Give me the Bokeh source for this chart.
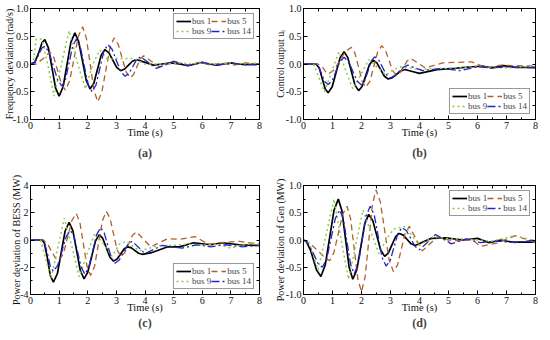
from bokeh.plotting import figure
from bokeh.layouts import gridplot
from bokeh.models import (Range1d, LinearAxis, Legend, LegendItem, Title,
                          SingleIntervalTicker, FixedTicker, NumeralTickFormatter)
from bokeh.embed import file_html
from bokeh.resources import INLINE

FONT = "'Liberation Serif', 'Times New Roman', serif"
series_names = ["bus 1", "bus 5", "bus 9", "bus 14"]
colors = ["#000000", "#B0602A", "#8CCB4A", "#2424C8"]
dashes = ["solid", "6 4", "2 3", "8 3 2 3"]
widths = [1.7, 1.3, 1.5, 1.3]

# ---------- (a) Frequency deviation (rad/s) ----------
a_t1 = [0, 0.15, 0.3, 0.4, 0.5, 0.625, 0.75, 0.875, 1.0, 1.14, 1.275, 1.41, 1.55, 1.68, 1.815, 1.95, 2.08, 2.21, 2.34, 2.47, 2.6, 2.74, 2.875, 3.01, 3.15, 3.29, 3.425, 3.56, 3.7, 4.0, 4.3, 4.6, 4.9, 5.2, 5.5, 5.75, 6.0, 6.25, 6.5, 6.75, 7.0, 7.25, 7.5, 8.0]
a_v1 = [0, 0.03, 0.22, 0.38, 0.44, 0.29, -0.07, -0.43, -0.58, -0.41, -0.01, 0.39, 0.56, 0.41, 0.055, -0.30, -0.45, -0.35, -0.095, 0.16, 0.26, 0.20, 0.07, -0.06, -0.12, -0.09, -0.02, 0.05, 0.08, 0.03, -0.02, 0.0, 0.02, 0.0, -0.03, 0.0, 0.03, 0.0, -0.02, 0.0, 0.02, 0.0, -0.01, 0.0]
a_t5 = [0, 0.2, 0.45, 0.68, 0.815, 0.95, 1.085, 1.22, 1.37, 1.52, 1.67, 1.82, 1.95, 2.085, 2.22, 2.35, 2.49, 2.635, 2.78, 2.92, 3.06, 3.2, 3.34, 3.48, 3.6, 3.715, 3.83, 3.95, 4.22, 4.5, 4.8, 5.1, 5.5, 5.9, 6.3, 6.7, 7.1, 7.5, 8.0]
a_v5 = [0, 0.0, 0.1, 0.22, 0.12, -0.125, -0.37, -0.47, -0.30, 0.1, 0.50, 0.67, 0.47, 0.0, -0.48, -0.68, -0.51, -0.105, 0.30, 0.47, 0.36, 0.11, -0.14, -0.25, -0.19, -0.05, 0.09, 0.15, 0.05, -0.05, 0.0, 0.03, -0.02, 0.03, -0.02, 0.02, -0.02, 0.02, 0.0]
a_t9 = [0, 0.1, 0.2, 0.4, 0.6, 0.82, 1.08, 1.35, 1.65, 1.92, 2.18, 2.42, 2.7, 3.0, 3.3, 3.6, 4.0, 4.4, 4.8, 5.2, 5.6, 6.0, 6.5, 7.0, 7.5, 8.0]
a_v9 = [0, 0.05, 0.45, 0.45, 0.0, -0.58, 0.0, 0.6, 0.0, -0.45, 0.0, 0.25, 0.08, 0.1, 0.1, 0.1, 0.0, 0.0, 0.0, 0.02, 0.0, 0.02, 0.0, 0.02, 0.0, 0.02]
a_t14 = [0, 0.15, 0.3, 0.4, 0.5, 0.65, 0.8, 0.95, 1.1, 1.225, 1.35, 1.475, 1.6, 1.74, 1.875, 2.01, 2.15, 2.29, 2.425, 2.56, 2.7, 2.85, 3.0, 3.15, 3.3, 3.44, 3.575, 3.71, 3.85, 4.12, 4.4, 4.7, 5.0, 5.25, 5.5, 5.75, 6.0, 6.25, 6.5, 7.0, 7.5, 8.0]
a_v14 = [0, 0.03, 0.18, 0.29, 0.32, 0.21, -0.04, -0.29, -0.4, -0.275, 0.025, 0.325, 0.45, 0.31, -0.025, -0.36, -0.5, -0.375, -0.075, 0.225, 0.35, 0.265, 0.065, -0.135, -0.22, -0.17, -0.045, 0.08, 0.13, 0.025, -0.08, -0.015, 0.05, 0.01, -0.03, 0.0, 0.03, 0.0, -0.02, 0.01, -0.01, -0.02]

# ---------- (b) Control output ----------
b_t1 = [0, 0.4, 0.45, 0.55, 0.65, 0.75, 0.85, 0.99, 1.125, 1.26, 1.4, 1.525, 1.65, 1.775, 1.9, 2.025, 2.15, 2.275, 2.4, 2.53, 2.66, 2.79, 2.92, 3.065, 3.21, 3.355, 3.5, 3.75, 4.0, 4.6, 5.2, 5.8, 6.2, 6.5, 6.9, 7.3, 8.0]
b_v1 = [0, 0, -0.01, -0.08, -0.27, -0.45, -0.52, -0.41, -0.15, 0.11, 0.22, 0.12, -0.13, -0.38, -0.48, -0.4, -0.205, -0.01, 0.07, 0.02, -0.1, -0.22, -0.27, -0.245, -0.185, -0.125, -0.1, -0.135, -0.17, -0.1, -0.08, -0.05, -0.04, -0.07, -0.03, -0.06, -0.06]
b_t5 = [0, 0.5, 0.65, 0.75, 0.85, 1.05, 1.25, 1.45, 1.65, 1.775, 1.9, 2.025, 2.15, 2.29, 2.425, 2.56, 2.7, 2.825, 2.95, 3.075, 3.2, 3.325, 3.45, 3.575, 3.7, 3.95, 4.2, 4.8, 5.3, 5.8, 6.3, 6.8, 7.3, 8.0]
b_v5 = [0, 0, -0.05, -0.13, -0.18, -0.11, 0.06, 0.23, 0.3, 0.195, -0.06, -0.315, -0.42, -0.31, -0.045, 0.22, 0.33, 0.25, 0.065, -0.12, -0.2, -0.155, -0.05, 0.055, 0.1, 0.015, -0.07, 0.02, 0.03, 0.04, -0.07, -0.02, -0.03, -0.04]
b_t9 = [0, 0.35, 0.72, 0.97, 1.22, 1.46, 1.7, 1.98, 2.25, 2.55, 2.85, 3.1, 3.35, 3.7, 4.0, 4.5, 5.0, 5.5, 6.0, 6.5, 7.0, 7.5, 8.0]
b_v9 = [0, 0, -0.5, -0.14, 0.22, -0.12, -0.45, -0.19, 0.08, -0.06, -0.2, -0.1, -0.05, -0.07, -0.1, -0.08, -0.08, -0.06, -0.05, -0.06, -0.07, -0.05, -0.05]
b_t14 = [0, 0.4, 0.5, 0.62, 0.74, 0.85, 0.99, 1.125, 1.26, 1.4, 1.55, 1.7, 1.85, 2.0, 2.11, 2.225, 2.34, 2.45, 2.59, 2.725, 2.86, 3.0, 3.15, 3.3, 3.45, 3.6, 3.85, 4.1, 4.8, 5.4, 6.0, 6.5, 7.0, 8.0]
b_v14 = [0, 0, -0.03, -0.17, -0.32, -0.37, -0.3, -0.125, 0.05, 0.12, 0.05, -0.13, -0.31, -0.38, -0.305, -0.125, 0.055, 0.13, 0.075, -0.06, -0.195, -0.25, -0.215, -0.135, -0.055, -0.02, -0.07, -0.12, -0.08, -0.12, -0.05, -0.07, -0.05, -0.07]

# ---------- (c) Power deviation of BESS (MW) ----------
c_t1 = [0, 0.4, 0.48, 0.58, 0.69, 0.8, 0.94, 1.075, 1.21, 1.35, 1.48, 1.61, 1.74, 1.87, 2.0, 2.135, 2.27, 2.4, 2.525, 2.65, 2.775, 2.9, 3.025, 3.15, 3.275, 3.4, 3.525, 3.65, 3.775, 3.9, 4.2, 4.8, 5.2, 5.7, 6.3, 6.7, 7.3, 8.0]
c_v1 = [0, 0, -0.2, -1.2, -2.6, -3.1, -2.46, -0.9, 0.66, 1.3, 0.69, -0.775, -2.24, -2.85, -2.37, -1.225, -0.08, 0.4, 0.115, -0.575, -1.265, -1.55, -1.4, -1.025, -0.65, -0.5, -0.58, -0.775, -0.97, -1.05, -0.95, -0.5, -0.5, -0.2, -0.35, -0.2, -0.35, -0.4]
c_t5 = [0, 0.45, 0.6, 0.75, 0.88, 1.0, 1.15, 1.3, 1.45, 1.6, 1.725, 1.85, 1.975, 2.1, 2.24, 2.375, 2.51, 2.65, 2.775, 2.9, 3.025, 3.15, 3.29, 3.425, 3.56, 3.7, 3.95, 4.2, 4.8, 5.2, 5.75, 6.2, 6.6, 7.3, 8.0]
c_v5 = [0, 0, -0.3, -0.9, -1.35, -1.5, -1.0, 0.225, 1.45, 1.95, 1.28, -0.325, -1.93, -2.6, -1.91, -0.25, 1.41, 2.1, 1.62, 0.45, -0.72, -1.2, -0.94, -0.3, 0.34, 0.6, 0.05, -0.5, 0.1, 0.05, 0.25, -0.3, -0.2, -0.1, -0.3]
c_t9 = [0, 0.35, 0.72, 0.95, 1.18, 1.45, 1.7, 1.98, 2.25, 2.55, 2.85, 3.1, 3.35, 3.8, 4.5, 5.0, 5.5, 6.0, 6.5, 7.0, 7.5, 8.0]
c_v9 = [0, 0, -2.8, -0.6, 1.6, -0.5, -2.7, -1.0, 0.5, -0.3, -1.2, -0.3, -0.1, -0.8, -0.4, -0.4, -0.3, -0.4, -0.3, -0.6, -0.3, -0.3]
c_t14 = [0, 0.4, 0.48, 0.58, 0.69, 0.8, 0.95, 1.1, 1.25, 1.4, 1.525, 1.65, 1.775, 1.9, 2.04, 2.175, 2.31, 2.45, 2.575, 2.7, 2.825, 2.95, 3.1, 3.25, 3.4, 3.55, 3.78, 4.0, 4.6, 5.3, 5.8, 6.3, 6.8, 7.4, 8.0]
c_v14 = [0, 0, -0.15, -0.9, -1.9, -2.3, -1.86, -0.8, 0.26, 0.7, 0.23, -0.9, -2.03, -2.5, -2.0, -0.8, 0.4, 0.9, 0.52, -0.4, -1.32, -1.7, -1.47, -0.9, -0.33, -0.1, -0.55, -1.0, -0.4, -0.6, -0.35, -0.5, -0.35, -0.5, -0.4]

# ---------- (d) Power deviation of Gen (MW) ----------
d_t1 = [0, 0.1, 0.25, 0.45, 0.6, 0.75, 0.9, 1.05, 1.2, 1.325, 1.45, 1.575, 1.7, 1.84, 1.975, 2.11, 2.25, 2.39, 2.525, 2.66, 2.8, 2.925, 3.05, 3.175, 3.3, 3.44, 3.575, 3.71, 3.85, 4.1, 4.4, 4.9, 5.5, 6.0, 6.4, 6.8, 7.2, 8.0]
d_v1 = [0, -0.03, -0.2, -0.55, -0.67, -0.46, 0.04, 0.54, 0.75, 0.535, 0.015, -0.505, -0.72, -0.545, -0.125, 0.295, 0.47, 0.355, 0.085, -0.185, -0.3, -0.24, -0.09, 0.06, 0.12, 0.09, 0.01, -0.07, -0.1, -0.04, 0.03, 0.04, 0.0, 0.03, -0.05, 0.0, -0.04, -0.04]
d_t5 = [0, 0.3, 0.6, 0.78, 0.9, 1.05, 1.2, 1.35, 1.5, 1.625, 1.75, 1.875, 2.0, 2.125, 2.25, 2.375, 2.5, 2.65, 2.8, 2.95, 3.1, 3.24, 3.375, 3.51, 3.65, 3.875, 4.1, 4.6, 5.0, 5.5, 5.8, 6.1, 6.7, 7.3, 8.0]
d_v5 = [0, -0.1, -0.25, -0.35, -0.38, -0.23, 0.12, 0.47, 0.62, 0.39, -0.165, -0.72, -0.95, -0.675, -0.015, 0.645, 0.92, 0.7, 0.17, -0.36, -0.58, -0.46, -0.165, 0.13, 0.25, 0.025, -0.2, 0.05, 0.0, -0.02, 0.02, -0.12, -0.05, 0.08, -0.05]
d_t9 = [0, 0.2, 0.5, 0.78, 1.05, 1.3, 1.55, 1.8, 2.05, 2.32, 2.6, 2.85, 3.1, 3.5, 4.0, 4.5, 5.0, 5.5, 6.0, 6.5, 7.3, 8.0]
d_v9 = [0, -0.05, -0.55, 0.1, 0.75, 0.0, -0.72, -0.1, 0.55, 0.15, -0.25, 0.0, 0.2, 0.25, -0.1, 0.07, 0.02, 0.02, 0.0, -0.02, 0.08, -0.02]
d_t14 = [0, 0.1, 0.3, 0.5, 0.65, 0.8, 0.95, 1.1, 1.25, 1.375, 1.5, 1.625, 1.75, 1.89, 2.025, 2.16, 2.3, 2.44, 2.575, 2.71, 2.85, 2.99, 3.125, 3.26, 3.4, 3.55, 3.7, 3.85, 4.0, 4.28, 4.55, 5.1, 5.6, 6.1, 6.7, 7.3, 8.0]
d_v14 = [0, -0.02, -0.2, -0.43, -0.5, -0.35, 0.025, 0.4, 0.55, 0.38, -0.035, -0.45, -0.62, -0.44, 0.0, 0.44, 0.62, 0.46, 0.07, -0.32, -0.48, -0.375, -0.125, 0.125, 0.23, 0.17, 0.025, -0.12, -0.18, -0.04, 0.1, -0.07, 0.02, -0.05, -0.02, -0.05, 0.0]

# tick positions
x_mirror_ticks = [0, 0.5, 1, 1.5, 2, 2.5, 3, 3.5, 4, 4.5, 5, 5.5, 6, 6.5, 7, 7.5, 8]
y_mirror_ticks_unit = [-1, -0.75, -0.5, -0.25, 0, 0.25, 0.5, 0.75, 1]
y_mirror_ticks_bess = [-4, -3, -2, -1, 0, 1, 2, 3, 4]

y_labels = ["Frequency deviation (rad/s)", "Control output u\u1d62",
            "Power deviation of BESS (MW)", "Power deviation of Gen (MW)"]
captions = ["(a)", "(b)", "(c)", "(d)"]


def style_axis(ax):
    ax.major_tick_in = 4
    ax.major_tick_out = 0
    ax.minor_tick_in = 2
    ax.minor_tick_out = 0
    ax.axis_line_color = "black"
    ax.major_tick_line_color = "black"
    ax.minor_tick_line_color = "black"
    ax.major_label_text_font = FONT
    ax.major_label_text_font_size = "10px"
    ax.major_label_text_color = "#111111"
    ax.axis_label_text_font = FONT
    ax.axis_label_text_font_size = "10.5px"
    ax.axis_label_text_font_style = "normal"
    ax.axis_label_text_color = "#111111"
    ax.major_label_standoff = 2


def mirror_axis(ticks):
    ax = LinearAxis(ticker=FixedTicker(ticks=[], minor_ticks=ticks))
    ax.major_tick_in = 0
    ax.major_tick_out = 0
    ax.minor_tick_in = 3
    ax.minor_tick_out = 0
    ax.major_label_standoff = 0
    ax.axis_line_color = "black"
    ax.minor_tick_line_color = "black"
    return ax


def make_panel(series, ylab, cap, yr, yint, yfmt, ymirror, legend_loc,
               w, h, mb, cap_standoff, ylab_standoff):
    p = figure(width=w, height=h, x_range=Range1d(0, 8), y_range=Range1d(*yr),
               output_backend="svg", toolbar_location=None,
               min_border_left=mb[0], min_border_right=mb[1],
               min_border_top=mb[2], min_border_bottom=mb[3])
    p.xgrid.visible = False
    p.ygrid.visible = False
    p.outline_line_color = "black"
    p.outline_line_width = 1
    p.background_fill_color = "white"
    p.border_fill_color = "white"
    p.xaxis.ticker = SingleIntervalTicker(interval=1, num_minor_ticks=2)
    p.yaxis.ticker = SingleIntervalTicker(interval=yint, num_minor_ticks=2)
    p.yaxis.formatter = NumeralTickFormatter(format=yfmt)
    style_axis(p.xaxis[0])
    style_axis(p.yaxis[0])
    p.xaxis.axis_label = "Time (s)"
    p.xaxis.axis_label_standoff = -5
    p.yaxis.axis_label = ylab
    p.yaxis.axis_label_text_font_size = "10px"
    p.yaxis.axis_label_standoff = ylab_standoff
    p.add_layout(mirror_axis(x_mirror_ticks), "above")
    p.add_layout(mirror_axis(ymirror), "right")

    rends = []
    for (t, v), c, d, lw in zip(series, colors, dashes, widths):
        rends.append(p.line(t, v, line_color=c, line_dash=d, line_width=lw))
    order = [0, 2, 1, 3]  # column-major fill -> rows: bus1 bus5 / bus9 bus14
    items = [LegendItem(label=series_names[i], renderers=[rends[i]]) for i in order]
    leg = Legend(items=items, ncols=2, location=legend_loc,
                 label_text_font=FONT, label_text_font_size="9px",
                 label_standoff=1, glyph_width=15, glyph_height=8,
                 label_height=8, label_width=16, spacing=0, padding=2, margin=5,
                 border_line_color="#333333", border_line_width=1,
                 background_fill_alpha=1)
    p.add_layout(leg, "center")
    p.add_layout(Title(text=cap, align="center", text_font=FONT,
                       text_font_size="12px", text_font_style="bold",
                       standoff=cap_standoff), "below")
    return p


pa = make_panel([(a_t1, a_v1), (a_t5, a_v5), (a_t9, a_v9), (a_t14, a_v14)],
                y_labels[0], captions[0], (-1, 1), 0.5, "0.0", y_mirror_ticks_unit,
                "top_right", 271, 170, (22, 12, 8, 51), 6, -5)
pb = make_panel([(b_t1, b_v1), (b_t5, b_v5), (b_t9, b_v9), (b_t14, b_v14)],
                y_labels[1], captions[1], (-1, 1), 0.5, "0.0", y_mirror_ticks_unit,
                "bottom_right", 271, 170, (28, 7, 8, 51), 6, -3)
pc = make_panel([(c_t1, c_v1), (c_t5, c_v5), (c_t9, c_v9), (c_t14, c_v14)],
                y_labels[2], captions[2], (-4, 4), 2, "0", y_mirror_ticks_bess,
                "bottom_right", 271, 170, (22, 12, 15, 46), -3, -5)
pd = make_panel([(d_t1, d_v1), (d_t5, d_v5), (d_t9, d_v9), (d_t14, d_v14)],
                y_labels[3], captions[3], (-1, 1), 0.5, "0.0", y_mirror_ticks_unit,
                "top_right", 271, 170, (28, 7, 14, 46), -3, -3)

grid = gridplot([[pa, pb], [pc, pd]], toolbar_location=None)
open("out.html", "w").write(file_html(grid, INLINE))
